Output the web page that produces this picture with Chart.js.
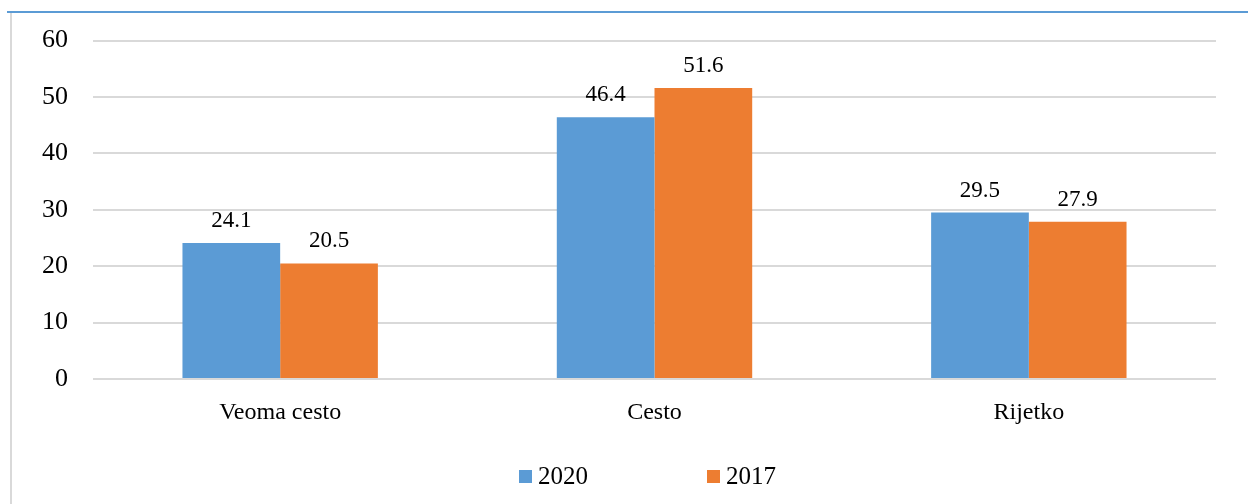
<!DOCTYPE html>
<html>
<head>
<meta charset="utf-8">
<script src="https://cdn.jsdelivr.net/npm/chart.js@4.4.1/dist/chart.umd.min.js"></script>
<style>
  html, body { margin: 0; padding: 0; background: #fff; }
  #wrap { position: relative; width: 1248px; height: 504px; overflow: hidden; }
  #topLine { position: absolute; left: 7px; top: 11px; width: 1241px; height: 2px; background: #5b9bd5; }
  #leftLine { position: absolute; left: 10px; top: 13px; width: 2px; height: 491px; background: #d9d9d9; }
  canvas { position: absolute; left: 0; top: 0; }
</style>
</head>
<body>
<div id="wrap">
  <div id="topLine"></div>
  <div id="leftLine"></div>
  <canvas id="chart" width="1248" height="504"></canvas>
</div>
<script>
const categories = ["Veoma cesto", "Cesto", "Rijetko"];
const seriesNames = ["2020", "2017"];
const values2020 = [24.1, 46.4, 29.5];
const values2017 = [20.5, 51.6, 27.9];
const yTicks = [0, 10, 20, 30, 40, 50, 60];

const colors = ["#5b9bd5", "#ed7d31"];
const FONT = "'Liberation Serif', 'DejaVu Serif', serif";

// value labels above each bar
const barLabels = {
  id: "barLabels",
  afterDatasetsDraw(chart) {
    const ctx = chart.ctx;
    ctx.save();
    ctx.font = "23px " + FONT;
    ctx.fillStyle = "#000";
    ctx.textAlign = "center";
    ctx.textBaseline = "middle";
    chart.data.datasets.forEach((ds, i) => {
      chart.getDatasetMeta(i).data.forEach((bar, j) => {
        ctx.fillText(ds.data[j].toFixed(1), bar.x, bar.y - 22);
      });
    });
    ctx.restore();
  }
};

// legend at the bottom, square markers
const bottomLegend = {
  id: "bottomLegend",
  afterDraw(chart) {
    const ctx = chart.ctx;
    ctx.save();
    ctx.font = "25px " + FONT;
    ctx.textBaseline = "middle";
    ctx.textAlign = "left";
    const box = 13, gap = 6, spacing = 119;
    const items = chart.data.datasets.map(ds => ({
      label: ds.label, color: ds.backgroundColor, w: ctx.measureText(ds.label).width
    }));
    const total = items.reduce((s, it) => s + box + gap + it.w, 0) + spacing * (items.length - 1);
    let x = (chart.chartArea.left + chart.chartArea.right) / 2 - 7 - total / 2;
    const y = 477;
    items.forEach(it => {
      ctx.fillStyle = it.color;
      ctx.fillRect(x, y - 7, box, box);
      ctx.fillStyle = "#000";
      ctx.fillText(it.label, x + box + gap, y);
      x += box + gap + it.w + spacing;
    });
    ctx.restore();
  }
};

new Chart(document.getElementById("chart"), {
  type: "bar",
  data: {
    labels: categories,
    datasets: [
      { label: seriesNames[0], data: values2020, backgroundColor: colors[0] },
      { label: seriesNames[1], data: values2017, backgroundColor: colors[1] }
    ]
  },
  options: {
    responsive: false,
    animation: false,
    layout: { padding: { top: 39, right: 32, left: 0, bottom: 0 } },
    datasets: { bar: { barPercentage: 1, categoryPercentage: 0.522 } },
    plugins: {
      legend: { display: false },
      tooltip: { enabled: false }
    },
    scales: {
      x: {
        grid: { display: false, drawTicks: false },
        border: { display: false },
        ticks: { color: "#000", font: { family: FONT, size: 24 }, padding: 19 },
        afterFit(scale) { scale.height = 125; }
      },
      y: {
        min: 0,
        max: 60,
        afterBuildTicks(scale) { scale.ticks = yTicks.map(v => ({ value: v })); },
        grid: { color: "#d9d9d9", lineWidth: 2, drawTicks: false },
        border: { display: false },
        ticks: { color: "#000", font: { family: FONT, size: 26 }, padding: 25 },
        afterFit(scale) { scale.width = 93; }
      }
    }
  },
  plugins: [barLabels, bottomLegend]
});
</script>
</body>
</html>
